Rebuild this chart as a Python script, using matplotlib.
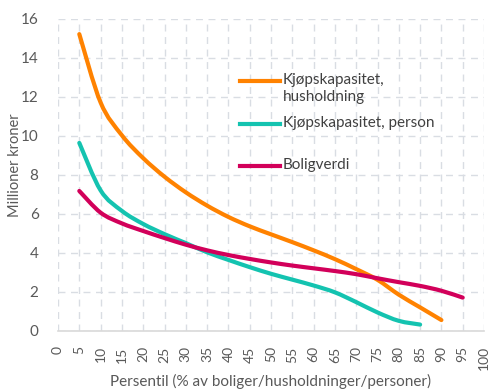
import numpy as np
import matplotlib
matplotlib.use("Agg")
import matplotlib.pyplot as plt
from matplotlib.path import Path
from matplotlib.patches import PathPatch
from matplotlib.lines import Line2D

plt.rcParams['font.family'] = ['Lato', 'DejaVu Sans']

# Percentiles and values (million NOK)
pct_hh = [5, 10, 15, 20, 25, 30, 35, 40, 45, 50, 55, 60, 65, 70, 75, 80, 85, 90]
kjop_husholdning = [15.2, 11.7, 10.02, 8.85, 7.9, 7.1, 6.42, 5.84, 5.36, 4.95, 4.55,
                    4.13, 3.68, 3.17, 2.62, 1.86, 1.21, 0.56]

pct_person = [5, 10, 15, 20, 25, 30, 35, 40, 45, 50, 55, 60, 65, 70, 75, 80, 85]
kjop_person = [9.63, 7.2, 6.15, 5.48, 4.96, 4.5, 4.03, 3.64, 3.27, 2.93, 2.63,
               2.33, 1.98, 1.48, 0.95, 0.52, 0.33]

pct_bolig = [5, 10, 15, 20, 25, 30, 35, 40, 45, 50, 55, 60, 65, 70, 75, 80, 85, 90, 95]
boligverdi = [7.17, 6.06, 5.51, 5.12, 4.76, 4.42, 4.13, 3.89, 3.69, 3.51, 3.35,
              3.21, 3.07, 2.91, 2.70, 2.50, 2.31, 2.06, 1.71]

labels = ["Kjøpskapasitet,\nhusholdning", "Kjøpskapasitet, person", "Boligverdi"]
colors = ["#FF8200", "#14C3B0", "#D2005A"]

x_ticks = list(range(0, 101, 5))
y_ticks = list(range(0, 17, 2))

TEXT = "#595959"
GRID = "#D9DDE3"


def smooth_path(x, y, tension=1 / 6):
    """Cubic Bezier path through the points (Catmull-Rom style smoothing)."""
    x = np.asarray(x, float)
    y = np.asarray(y, float)
    pts = np.column_stack([x, y])
    verts = [pts[0]]
    codes = [Path.MOVETO]
    n = len(pts)
    for i in range(n - 1):
        p0 = pts[i - 1] if i > 0 else pts[i]
        p1 = pts[i]
        p2 = pts[i + 1]
        p3 = pts[i + 2] if i + 2 < n else pts[i + 1]
        c1 = p1 + (p2 - p0) * tension
        c2 = p2 - (p3 - p1) * tension
        verts += [c1, c2, p2]
        codes += [Path.CURVE4] * 3
    return Path(verts, codes)


fig = plt.figure(figsize=(4.9, 3.9), dpi=100)
ax = fig.add_axes([58 / 490, 1 - 331 / 390, (484 - 58) / 490, (331 - 18.5) / 390])

for xs, ys, c in [(pct_hh, kjop_husholdning, colors[0]),
                  (pct_person, kjop_person, colors[1]),
                  (pct_bolig, boligverdi, colors[2])]:
    patch = PathPatch(smooth_path(xs, ys), facecolor="none", edgecolor=c,
                      lw=3.0, capstyle="round", joinstyle="round", zorder=3)
    ax.add_patch(patch)

ax.set_xlim(0, 100)
ax.set_ylim(0, 16)
ax.set_xticks(x_ticks)
ax.set_yticks(y_ticks)
ax.set_xticklabels([str(v) for v in x_ticks], rotation=90, fontsize=10, color=TEXT)
ax.set_yticklabels([str(v) for v in y_ticks], fontsize=11, color=TEXT)
ax.tick_params(axis="both", length=0)
ax.tick_params(axis="x", pad=11)
ax.tick_params(axis="y", pad=14)

ax.grid(True, color=GRID, lw=1.0, linestyle=(0, (5, 4)))
ax.set_axisbelow(True)
for s in ["top", "right", "left"]:
    ax.spines[s].set_visible(False)
ax.spines["bottom"].set_color("#D9D9D9")
ax.spines["bottom"].set_linewidth(1.2)

ax.set_xlabel("Persentil (% av boliger/husholdninger/personer)", fontsize=11,
              color=TEXT, va="center")
ax.xaxis.set_label_coords(0.5, -0.16)
ax.set_ylabel("Millioner kroner", fontsize=10.5, color=TEXT, va="center")
ax.yaxis.set_label_coords(-0.1, 0.53)

# Legend drawn manually so each handle lines up with the first text line
leg_y = [81, 124, 166]
for lab, c, yp in zip(labels, colors, leg_y):
    yf = 1 - yp / 390
    fig.add_artist(Line2D([240 / 490, 280 / 490], [yf, yf], color=c, lw=3.0,
                          transform=fig.transFigure))
    fig.text(283 / 490, yf + 8 / 390, lab, fontsize=11, color="#404040",
             ha="left", va="top", linespacing=1.25)

fig.savefig("out.png", dpi=100)
